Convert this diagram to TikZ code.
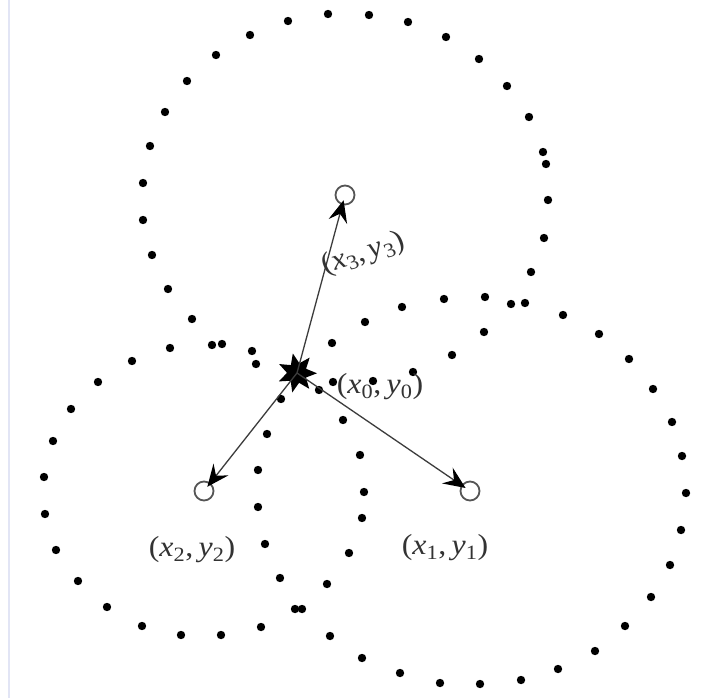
\documentclass[tikz,border=0pt]{standalone}
\usepackage{fontspec}
\setmainfont{Liberation Serif}
\usetikzlibrary{shapes.geometric,arrows.meta}
\definecolor{edgeline}{HTML}{E2E5F5}
\definecolor{labelgray}{HTML}{333333}
\definecolor{linegray}{HTML}{3C3C3C}
\definecolor{ringgray}{HTML}{555555}
\tikzset{
  dotmark/.style={fill=black},
  anchorpt/.style={circle,draw=ringgray,line width=1.8pt,minimum size=19pt,inner sep=0pt},
  conn/.style={draw=linegray,line width=1.3pt,-{Stealth[length=22pt,width=19pt,inset=8pt,color=black]},shorten >=-5pt},
  lbl/.style={text=labelgray,font=\fontsize{29}{32}\selectfont,inner sep=0pt,xscale=1.1},
}
\newcommand{\pl}[2]{(\textit{x}\textsubscript{#1},\,\textit{y}\textsubscript{#2})}
\begin{document}
\begin{tikzpicture}[x=1pt,y=-1pt]
\useasboundingbox (0,0) rectangle (704,698);
\fill[white] (0,0) rectangle (704,698);
\draw[edgeline,line width=2pt] (9,0) -- (9,698);
% top circle
\foreach \a/\b in {328/14,369/15,408/22,446/37,479/59,507/86,529/117,543/152,546/164,548/200,544/238,531/272,511/304,484/332,452/355,413/372,373/381,333/382,256/364,222/344,192/319,168/289,152/255,143/220,143/183,150/146,165/112,187/81,216/55,250/35,288/21}
  \fill[dotmark] (\a,\b) circle[radius=4.2pt];
% lower right circle
\foreach \a/\b in {485/297,525/303,563/315,599/334,629/359,653/389,672/422,682/456,686/493,681/530,670/565,651/597,625/626,595/651,558/669,521/680,480/684,440/683,400/673,362/658,330/636,302/609,280/578,265/544,258/507,258/470,267/434,281/399,332/343,365/322,402/307,444/299}
  \fill[dotmark] (\a,\b) circle[radius=4.2pt];
% lower left circle
\foreach \a/\b in {170/348,132/361,98/382,71/409,53/441,44/477,45/514,56/550,78/581,107/607,142/626,181/635,221/635,261/627,295/609,327/584,349/553,362/518,364/492,360/455,343/420,319/390,252/351,212/345}
  \fill[dotmark] (\a,\b) circle[radius=4.2pt];
% anchors
\node[anchorpt] (p3) at (345,195) {};
\node[anchorpt] (p2) at (204,491) {};
\node[anchorpt] (p1) at (470,491) {};
\node[star,star points=7,star point ratio=2.0,fill=black,minimum size=40pt,inner sep=0pt,rotate=12] (p0) at (297,373) {};
\draw[conn] (p0.center) -- (p3);
\draw[conn] (p0.center) -- (p2);
\draw[conn] (p0.center) -- (p1);
% labels
\node[lbl,rotate=20] (l3) at (363,254) {\pl{3}{3}};
\node[lbl] (l0) at (380,387) {\pl{0}{0}};
\node[lbl] (l1) at (445,548) {\pl{1}{1}};
\node[lbl] (l2) at (192,550) {\pl{2}{2}};
\end{tikzpicture}
\end{document}
